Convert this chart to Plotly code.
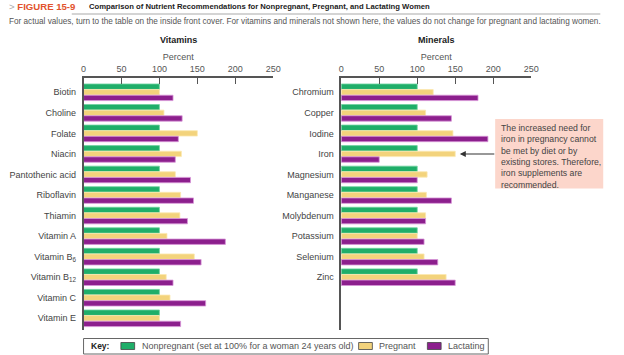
import plotly.graph_objects as go

# ---------------- data ----------------
vit_names = ["Biotin", "Choline", "Folate", "Niacin", "Pantothenic acid", "Riboflavin",
             "Thiamin", "Vitamin A", "Vitamin B<sub>6</sub>", "Vitamin B<sub>12</sub>",
             "Vitamin C", "Vitamin E"]
vit_nonpreg = [100, 100, 100, 100, 100, 100, 100, 100, 100, 100, 100, 100]
vit_preg = [100, 106, 150, 129, 121, 128, 127, 110, 146, 109, 114, 100]
vit_lact = [118, 130, 125, 121, 141, 145, 137, 187, 155, 118, 161, 128]

min_names = ["Chromium", "Copper", "Iodine", "Iron", "Magnesium", "Manganese",
             "Molybdenum", "Potassium", "Selenium", "Zinc"]
min_nonpreg = [100, 100, 100, 100, 100, 100, 100, 100, 100, 100]
min_preg = [121, 111, 147, 150, 113, 112, 111, 100, 109, 138]
min_lact = [180, 145, 193, 50, 100, 145, 111, 109, 127, 150]

x_ticks = [0, 50, 100, 150, 200, 250]
series_names = ["Nonpregnant (set at 100% for a woman 24 years old)", "Pregnant", "Lactating"]

# ---------------- styling ----------------
W, H = 624, 355
def px(x):
    return x / W
def py(y):
    return 1 - y / H

GREEN, YELLOW, PURPLE = "#1fae69", "#f3d37c", "#8c1f8d"
OUT = {GREEN: "#6fd3a0", YELLOW: "#fbe8b0", PURPLE: "#d895d8"}
SANS = "Liberation Sans, Arial, sans-serif"

fig = go.Figure()
for vals_v, vals_m, col, nm in [(vit_nonpreg, min_nonpreg, GREEN, series_names[0]),
                                (vit_preg, min_preg, YELLOW, series_names[1]),
                                (vit_lact, min_lact, PURPLE, series_names[2])]:
    fig.add_trace(go.Bar(x=vals_v, y=vit_names, orientation="h", name=nm,
                         marker=dict(color=col, line=dict(color=OUT[col], width=0.8)),
                         xaxis="x", yaxis="y", showlegend=False))
    fig.add_trace(go.Bar(x=vals_m, y=min_names, orientation="h", name=nm,
                         marker=dict(color=col, line=dict(color=OUT[col], width=0.8)),
                         xaxis="x2", yaxis="y2", showlegend=False))

y_dom = [py(330), py(77.7)]
yrange = [11.57, -0.71]

xcommon = dict(range=[0, 250], side="top", tickvals=x_ticks, ticks="inside", ticklen=7,
               tickcolor="#555", tickwidth=1, showline=True, linecolor="#555", linewidth=1.5,
               showgrid=False, zeroline=False, tickfont=dict(size=9, color="#555", family=SANS),
               title=dict(text="Percent", font=dict(size=9, color="#555", family=SANS), standoff=2))
ycommon = dict(type="category", range=yrange, showline=True, linecolor="#555", linewidth=1.5,
               ticks="", showgrid=False, zeroline=False,
               tickfont=dict(size=9, color="#444", family=SANS), ticklabelstandoff=4)

fig.update_layout(
    width=W, height=H, margin=dict(l=0, r=0, t=0, b=0),
    paper_bgcolor="white", plot_bgcolor="white",
    barmode="group", bargap=0.18, bargroupgap=0.04,
    font=dict(family=SANS),
    xaxis=dict(domain=[px(82), px(275)], anchor="y", **xcommon),
    yaxis=dict(domain=y_dom, anchor="x", categoryarray=vit_names, **ycommon),
    xaxis2=dict(domain=[px(344.3), px(537.7)], anchor="y2", **xcommon),
    yaxis2=dict(domain=y_dom, anchor="x2", categoryarray=min_names, **ycommon),
)

ann = []
shapes = []
# header
ann.append(dict(x=px(4), y=py(7), xref="paper", yref="paper", xanchor="left", yanchor="middle",
                showarrow=False,
                text='<span style="color:#aaa">&gt;</span> <b>FIGURE 15-9</b>',
                font=dict(family=SANS, size=9.6, color="#e2532d")))
ann.append(dict(x=px(85), y=py(7), xref="paper", yref="paper", xanchor="left", yanchor="middle",
                showarrow=False,
                text="<b>Comparison of Nutrient Recommendations for Nonpregnant, Pregnant, and Lactating Women</b>",
                font=dict(family=SANS, size=7.7, color="#222")))
shapes.append(dict(type="line", xref="paper", yref="paper", x0=px(70), x1=px(608),
                   y0=py(14), y1=py(14), line=dict(color="#d4d4d4", width=2)))
ann.append(dict(x=px(4), y=py(21.5), xref="paper", yref="paper", xanchor="left", yanchor="middle",
                showarrow=False,
                text="For actual values, turn to the table on the inside front cover. For vitamins and minerals not shown here, the values do not change for pregnant and lactating women.",
                font=dict(family=SANS, size=8.2, color="#555")))
# panel titles
ann.append(dict(x=px(179), y=py(40), xref="paper", yref="paper", xanchor="center", yanchor="middle",
                showarrow=False, text="<b>Vitamins</b>", font=dict(family=SANS, size=9, color="#222")))
ann.append(dict(x=px(441), y=py(40), xref="paper", yref="paper", xanchor="center", yanchor="middle",
                showarrow=False, text="<b>Minerals</b>", font=dict(family=SANS, size=9, color="#222")))

# callout box
shapes.append(dict(type="rect", xref="paper", yref="paper", x0=px(501), x1=px(611),
                   y0=py(188.5), y1=py(119), fillcolor="#fcd6cb", line=dict(width=0), layer="below"))
ann.append(dict(x=px(505), y=py(121), xref="paper", yref="paper", xanchor="left", yanchor="top",
                showarrow=False, align="left",
                text="The increased need for<br>iron in pregnancy cannot<br>be met by diet or by<br>existing stores. Therefore,<br>iron supplements are<br>recommended.",
                font=dict(family=SANS, size=8.7, color="#444")))
ann.append(dict(x=px(465), y=py(154), xref="paper", yref="paper", text="", showarrow=True,
                ax=36, ay=0, arrowhead=2, arrowsize=1, arrowwidth=1.2, arrowcolor="#333"))

# key
shapes.append(dict(type="rect", xref="paper", yref="paper", x0=px(82), x1=px(494),
                   y0=py(354), y1=py(338.5), line=dict(color="#666", width=1), fillcolor="rgba(0,0,0,0)"))
ann.append(dict(x=px(88), y=py(346), xref="paper", yref="paper", xanchor="left", yanchor="middle",
                showarrow=False, text="<b>Key:</b>", font=dict(family=SANS, size=8.5, color="#222")))
key_items = [(120, 139, GREEN, series_names[0]), (362, 381, YELLOW, series_names[1]),
             (432, 451, PURPLE, series_names[2])]
for sx, tx, col, nm in key_items:
    shapes.append(dict(type="rect", xref="paper", yref="paper", x0=px(sx), x1=px(sx + 14),
                       y0=py(349.5), y1=py(342.5), fillcolor=col, line=dict(color="#444", width=0.8)))
    ann.append(dict(x=px(tx), y=py(346), xref="paper", yref="paper", xanchor="left", yanchor="middle",
                    showarrow=False, text=nm, font=dict(family=SANS, size=9, color="#555")))

fig.update_layout(annotations=ann, shapes=shapes)
fig.write_html("out.html", config={"displayModeBar": False},
               post_script="document.body.style.margin='0';document.body.style.padding='0';document.documentElement.style.overflow='hidden';")
